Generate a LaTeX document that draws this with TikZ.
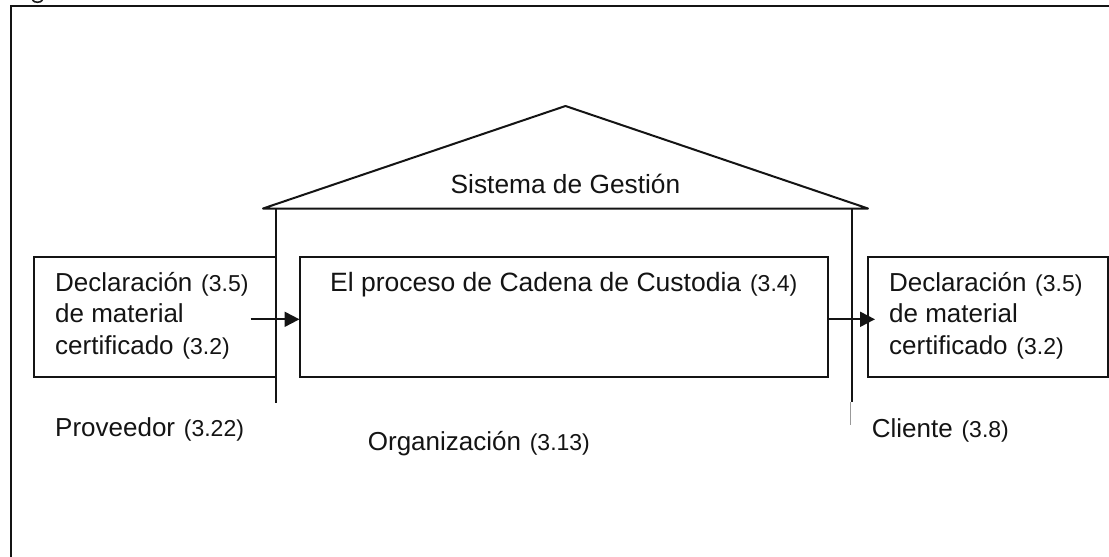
\documentclass[tikz,border=0pt]{standalone}
\usepackage{fontspec}
\setmainfont{Liberation Sans}
\usetikzlibrary{arrows.meta}
\newcommand{\refnum}[1]{\kern1.5pt{\fontsize{23}{31}\selectfont #1}}
\tikzset{
  ink/.style={line width=2pt,draw=black!92},
  boxnode/.style={ink,rectangle,inner sep=0pt,outer sep=0pt,minimum height=120pt,anchor=north west},
  txt/.style={inner sep=0pt,anchor=base west,text=black!92,font=\fontsize{26}{31}\selectfont},
  flow/.style={ink,-{Triangle[length=15pt,width=15pt]}},
}
\begin{document}
\begin{tikzpicture}[x=1pt,y=-1pt]
\useasboundingbox (0,0) rectangle (1109,557);
\fill[white] (0,0) rectangle (1109,557);
% outer frame (open on the right and bottom)
\draw[ink] (10.5,557) -- (10.5,6) -- (1109,6);
% cropped descender of the caption above the frame
\draw[line width=1.6pt,black!90] (32.5,0) .. controls (34,3) and (41,3) .. (42.5,0);
% boxes
\node[boxnode,minimum width=242pt] (leftbox) at (34,257) {};
\node[boxnode,minimum width=528.5pt] (midbox) at (299.5,257) {};
\node[boxnode,minimum width=240pt] (rightbox) at (867.7,257) {};
% roof
\coordinate (roofL) at (263,208.5);
\coordinate (roofR) at (868,208.5);
\coordinate (apex) at (565.5,106);
\draw[ink,line join=round] (roofL) -- (apex) -- (roofR) -- cycle;
% walls
\coordinate (wallLt) at (275.5,208.5);
\coordinate (wallLb) at (275.5,403);
\coordinate (wallRt) at (851.7,208.5);
\coordinate (wallRb) at (851.7,402);
\coordinate (wallRc) at (850.7,402);
\coordinate (wallRd) at (850.7,425);
\draw[ink] (wallLt) -- (wallLb);
\draw[ink] (wallRt) -- (wallRb);
\draw[line width=0.7pt,black!40] (wallRc) -- (wallRd);
% arrows
\coordinate (inStart) at (250.7,319.3);
\coordinate (outEnd) at (875,319.3);
\draw[flow] (inStart) -- (midbox.west |- inStart);
\draw[flow] (midbox.east |- outEnd) -- (outEnd);
% texts
\node[txt] (decl1a) at (55,291.7) {Declaración \refnum{(3.5)}};
\node[txt] (decl1b) at (55,322.7) {de material};
\node[txt] (decl1c) at (55,354) {certificado \refnum{(3.2)}};
\node[txt] (decl2a) at (889,291.7) {Declaración \refnum{(3.5)}};
\node[txt] (decl2b) at (889,322.7) {de material};
\node[txt] (decl2c) at (889,354) {certificado \refnum{(3.2)}};
\node[txt,font=\fontsize{26.5}{31}\selectfont] (proc) at (330,291.7) {El proceso de Cadena de Custodia \refnum{(3.4)}};
\node[txt,font=\fontsize{26.3}{31}\selectfont] (sg) at (450.5,193) {Sistema de Gestión};
\node[txt] (prov) at (55,436.7) {Proveedor \refnum{(3.22)}};
\node[txt] (org) at (367.7,450) {Organización \refnum{(3.13)}};
\node[txt] (cli) at (871.7,437) {Cliente \refnum{(3.8)}};
\end{tikzpicture}
\end{document}
